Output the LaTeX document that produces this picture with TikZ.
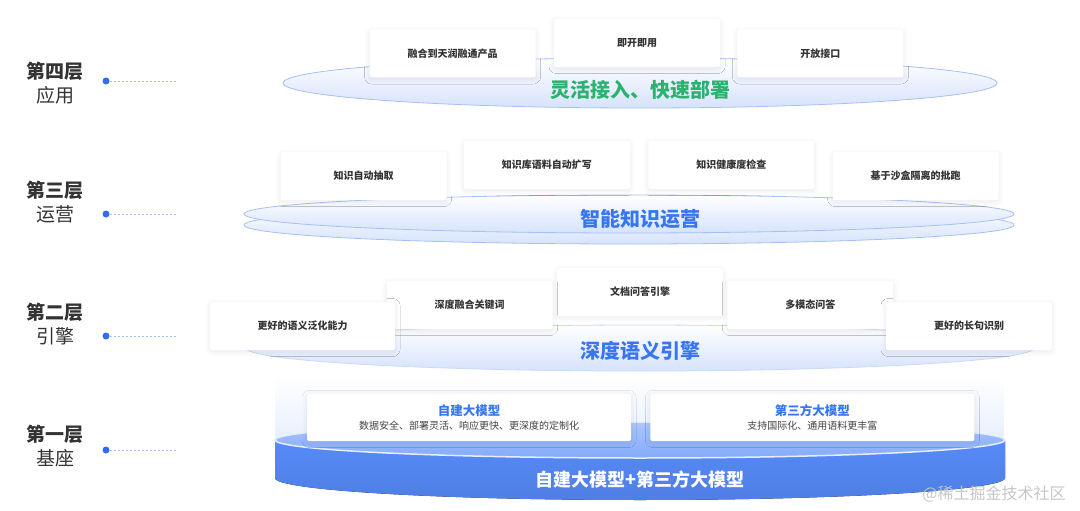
\documentclass[tikz,border=0pt]{standalone}
\usepackage{fontspec}
\setmainfont{Noto Sans CJK SC}
\usetikzlibrary{positioning, shadows.blur, fadings}
\definecolor{headgray}{RGB}{51,51,51}
\definecolor{cardtext}{RGB}{51,51,51}
\definecolor{subgray}{RGB}{68,68,68}
\definecolor{greentitle}{RGB}{43,178,110}
\definecolor{bluetitle}{RGB}{56,118,240}
\definecolor{rimblue}{RGB}{165,192,245}
\definecolor{paleblue}{RGB}{214,227,252}
\definecolor{dotblue}{RGB}{52,108,240}
\definecolor{bodyblue}{RGB}{86,138,248}
\definecolor{facetop}{RGB}{170,198,252}
\definecolor{facebot}{RGB}{132,170,251}
\definecolor{glowblue}{RGB}{232,239,252}
\tikzset{
    card/.style={rectangle, rounded corners=2pt, fill=white, minimum width=166pt, minimum height=48pt, inner sep=0pt, text centered, text=cardtext, font=\bfseries\fontsize{10}{12}\selectfont, blur shadow={shadow xshift=0pt, shadow yshift=-1.5pt, shadow blur radius=5pt, shadow blur steps=10, shadow opacity=9}},
    widecard/.style={card, minimum width=324pt, minimum height=47pt, align=center},
    sidehead/.style={inner sep=1pt, text=headgray, font=\bfseries\fontsize{19}{22}\selectfont},
    sidesub/.style={inner sep=1pt, text=headgray, font=\fontsize{19}{22}\selectfont},
    markdot/.style={circle, fill=dotblue, inner sep=0pt, minimum size=7pt},
    guide/.style={draw=rimblue, line width=0.9pt, dash pattern=on 2pt off 2pt},
    disc/.style={top color=white, bottom color=paleblue, draw=rimblue, line width=0.8pt},
    layertitle/.style={font=\bfseries\fontsize{20}{24}\selectfont}
}

\begin{document}
\begin{tikzpicture}[x=1pt, y=-1pt]
        \useasboundingbox (0,0) rectangle (1080,511);

        % Layer discs
        \path[disc] (640,83) ellipse [x radius=357, y radius=25];
        \path[disc] (629,225) ellipse [x radius=385, y radius=19];
        \path[disc] (629,214) ellipse [x radius=385, y radius=19];
        \path[disc, draw=rimblue!60] (640,348) ellipse [x radius=394, y radius=23];

        % Base cylinder
        \fill[glowblue, path fading=north] (275,376) rectangle (1005,440);
        \fill[top color=bodyblue, bottom color=bodyblue!92!black] (275,440) -- (275,478) arc [start angle=180, end angle=0, x radius=365, y radius=22] -- (1005,440) -- cycle;
        \path[top color=facetop, bottom color=facebot, draw=white!70!facetop, line width=1.5pt] (640,440) ellipse [x radius=365, y radius=18];

        % Side labels
        \node (head4) [sidehead] at (55,71) {第四层};
        \node (sub4) [sidesub, below=4pt of head4] {应用};
        \node (head3) [sidehead] at (55,190) {第三层};
        \node (sub3) [sidesub, below=4pt of head3] {运营};
        \node (head2) [sidehead] at (55,312) {第二层};
        \node (sub2) [sidesub, below=4pt of head2] {引擎};
        \node (head1) [sidehead] at (55,434) {第一层};
        \node (sub1) [sidesub, below=4pt of head1] {基座};

        \node (dot4) [markdot] at (106,81) {};
        \node (dot3) [markdot] at (106,214) {};
        \node (dot2) [markdot] at (106,336) {};
        \node (dot1) [markdot] at (106,450) {};
        \coordinate (end4) at (176,81);
        \coordinate (end3) at (176,214);
        \coordinate (end2) at (176,336);
        \coordinate (end1) at (176,450);
        \draw [guide] (dot4) -- (end4);
        \draw [guide] (dot3) -- (end3);
        \draw [guide] (dot2) -- (end2);
        \draw [guide] (dot1) -- (end1);

        % Layer 4
        \node (ready) [card] at (637,43) {即开即用};
        \node (fuse) [card, left=18pt of ready, yshift=-10.5pt] {融合到天润融通产品};
        \node (open) [card, right=17pt of ready, yshift=-10.5pt] {开放接口};
        \node (t4) [layertitle, text=greentitle] at (640,90) {灵活接入、快速部署};

        % Layer 3
        \node (extract) [card] at (363.5,176) {知识自动抽取};
        \node (expand) [card, right=17pt of extract, yshift=11pt] {知识库语料自动扩写};
        \node (health) [card, right=18pt of expand] {知识健康度检查};
        \node (sandbox) [card, right=18pt of health, yshift=-11pt] {基于沙盒隔离的批跑};
        \node (t3) [layertitle, text=bluetitle] at (640,219) {智能知识运营};

        % Layer 2
        \node (docqa) [card] at (640,292) {文档问答引擎};
        \node (keyword) [card, left=4pt of docqa, yshift=-13pt] {深度融合关键词};
        \node (multi) [card, right=4pt of docqa, yshift=-13pt] {多模态问答};
        \node (general) [card, minimum width=185pt] at (302.5,326) {更好的语义泛化能力};
        \node (longsent) [card] at (969,326) {更好的长句识别};
        \node (t2) [layertitle, text=bluetitle] at (640,351) {深度语义引擎};

        % Layer 1
        \node (own) [widecard] at (469,417.5) {{\color{bluetitle}\fontsize{12.5}{15}\selectfont 自建大模型}\\[1.5pt]{\mdseries\color{subgray}\fontsize{10}{13}\selectfont 数据安全、部署灵活、响应更快、更深度的定制化}};
        \node (third) [widecard, right=19pt of own] {{\color{bluetitle}\fontsize{12.5}{15}\selectfont 第三方大模型}\\[1.5pt]{\mdseries\color{subgray}\fontsize{10}{13}\selectfont 支持国际化、通用语料更丰富}};
        \node (t1) [layertitle, text=white, font=\bfseries\fontsize{18}{22}\selectfont] at (640,480) {自建大模型+第三方大模型};

        \node (mark) [text=gray!45, font=\fontsize{16}{18}\selectfont] at (994,494) {@稀土掘金技术社区};
    \end{tikzpicture}
\end{document}
